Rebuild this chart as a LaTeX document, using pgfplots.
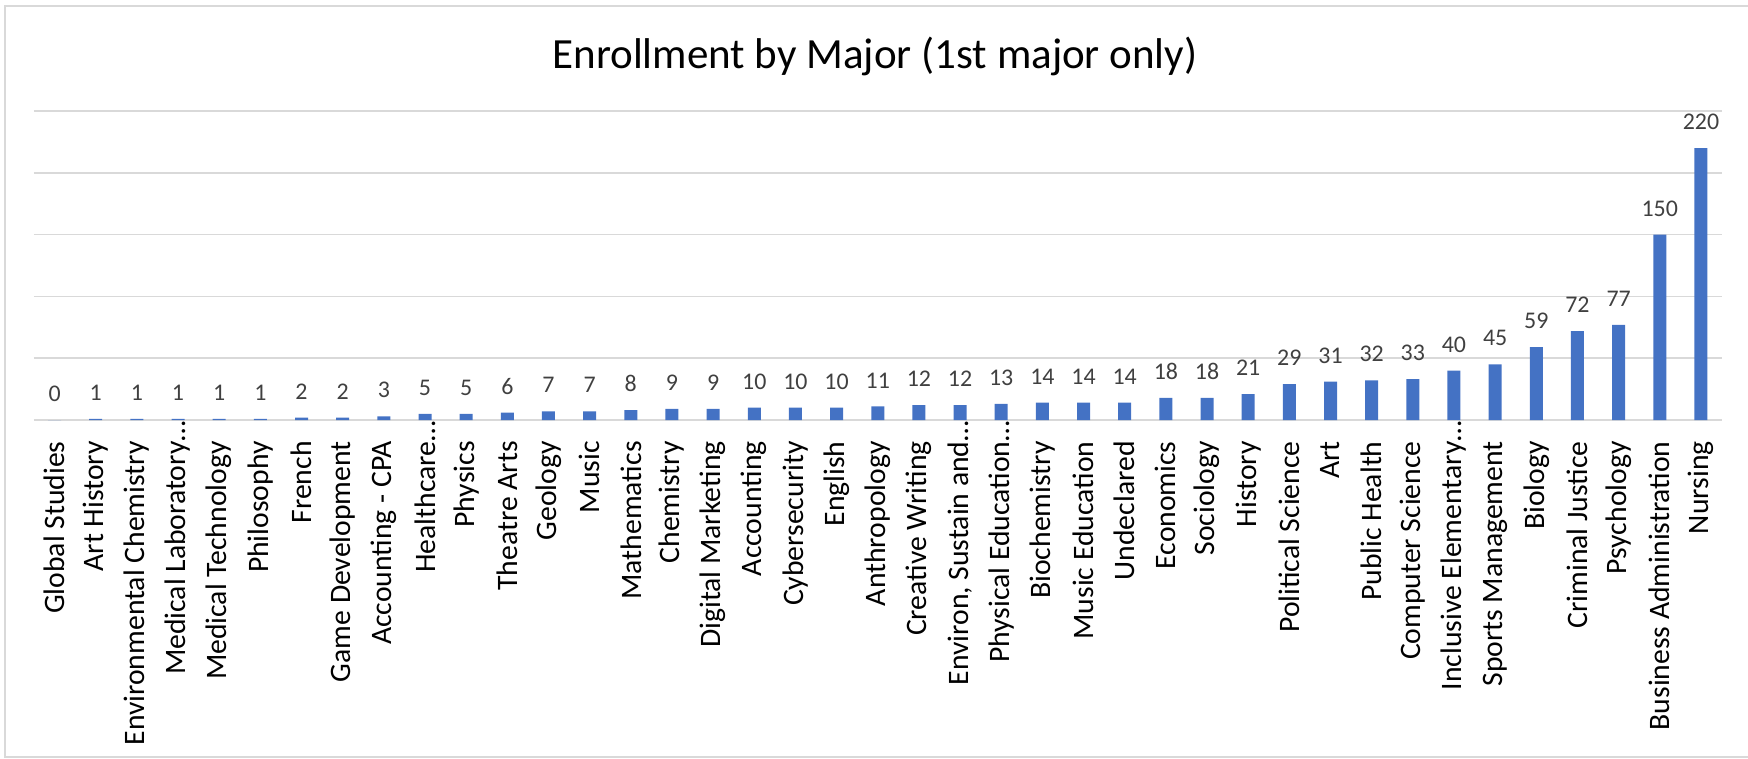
\documentclass[border=0pt]{standalone}
\usepackage{fontspec}
\setmainfont{Carlito}
\usepackage{pgfplots}
\pgfplotsset{compat=1.18}
\definecolor{barblue}{HTML}{4472C4}
\definecolor{gridgray}{HTML}{D9D9D9}
\definecolor{labelgray}{HTML}{404040}

\begin{document}
\begin{tikzpicture}
% whole chart area, 1px = 0.5bp, origin at the lower left of the plot area
\path[use as bounding box] (-17bp,-169.5bp) rectangle (857bp,210bp);
\draw[gridgray, line width=1bp] (858bp,207.2bp) -- (-14.5bp,207.2bp) -- (-14.5bp,-168.5bp) -- (858bp,-168.5bp);
\node[anchor=base, font=\fontsize{21.6}{26}\selectfont] at (420.5bp,175.5bp) {Enrollment by Major (1st major only)};
\begin{axis}[
  scale only axis,
  width=843.75bp, height=154.5bp,
  xmin=-0.5, xmax=40.5,
  ymin=0, ymax=250,
  axis line style={draw=none},
  major tick length=0pt,
  ytick={0,50,...,250}, yticklabels={},
  ymajorgrids, grid style={gridgray, line width=0.8bp},
  xtick=data,
  xticklabels={Global Studies, Art History, Environmental Chemistry, Medical Laboratory\rlap{…},
    Medical Technology, Philosophy, French, Game Development, Accounting - CPA, Healthcare\rlap{…},
    Physics, Theatre Arts, Geology, Music, Mathematics, Chemistry, Digital Marketing, Accounting,
    Cybersecurity, English, Anthropology, Creative Writing, {Environ, Sustain and\rlap{…}},
    Physical Education\rlap{…}, Biochemistry, Music Education, Undeclared, Economics, Sociology,
    History, Political Science, Art, Public Health, Computer Science, Inclusive Elementary\rlap{…},
    Sports Management, Biology, Criminal Justice, Psychology, Business Administration, Nursing},
  xticklabel style={rotate=90, anchor=east, inner sep=0pt, font=\fontsize{14.9}{17}\selectfont},
  xticklabel shift=10.5bp,
  ybar, bar width=6.5bp,
  nodes near coords,
  /pgf/number format/assume math mode=true,
  every node near coord/.append style={anchor=south, inner sep=0pt, yshift=9bp,
    text=labelgray, font=\fontsize{12}{13}\selectfont},
  clip=false,
]
\addplot[fill=barblue, draw=none] coordinates {
  (0,0) (1,1) (2,1) (3,1) (4,1) (5,1) (6,2) (7,2) (8,3) (9,5)
  (10,5) (11,6) (12,7) (13,7) (14,8) (15,9) (16,9) (17,10) (18,10) (19,10)
  (20,11) (21,12) (22,12) (23,13) (24,14) (25,14) (26,14) (27,18) (28,18) (29,21)
  (30,29) (31,31) (32,32) (33,33) (34,40) (35,45) (36,59) (37,72) (38,77) (39,150)
  (40,220)
};
\end{axis}
\end{tikzpicture}
\end{document}
